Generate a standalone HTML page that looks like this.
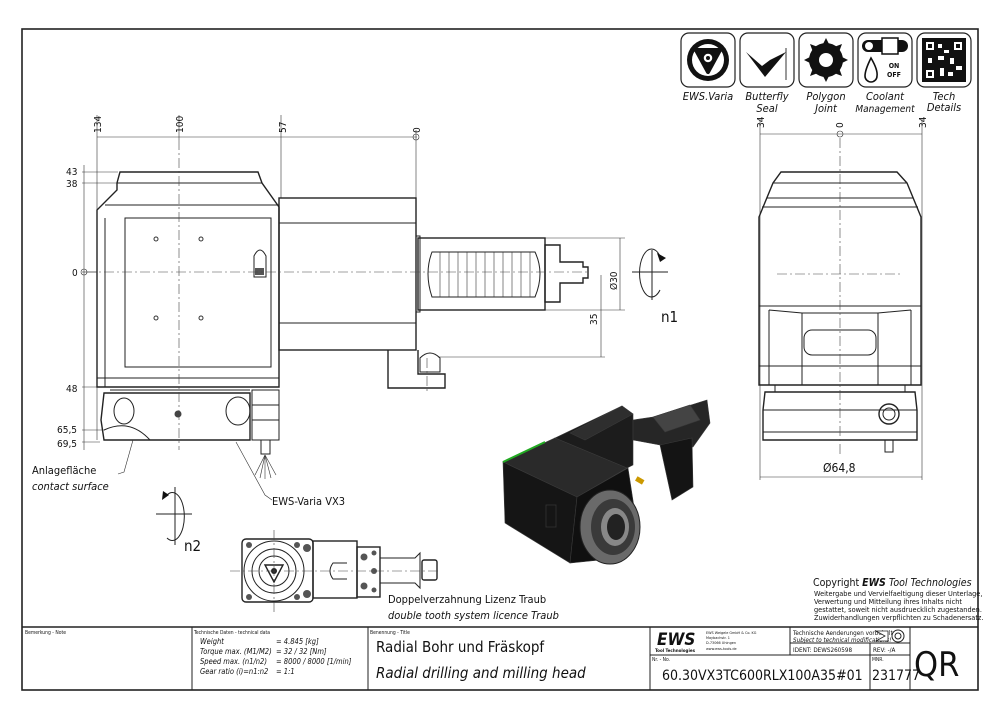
<!DOCTYPE html>
<html><head><meta charset="utf-8"><style>
body{margin:0;background:#fff}
svg{display:block}
text{font-family:"DejaVu Sans Condensed","DejaVu Sans","Liberation Sans",sans-serif;fill:#111}
.l{stroke:#222;stroke-width:1;fill:none}
.t{stroke:#222;stroke-width:1.4;fill:none}
.w{stroke:#222;stroke-width:1.2;fill:#fff}
.c{stroke:#444;stroke-width:0.6;stroke-dasharray:10 3 2 3;fill:none}
.d{stroke:#333;stroke-width:0.6;fill:none}
</style></head><body>
<svg width="1000" height="715" viewBox="0 0 1000 715" xmlns="http://www.w3.org/2000/svg">
<rect x="0" y="0" width="1000" height="715" fill="#fff"/>
<rect x="22" y="29" width="956" height="661" fill="none" stroke="#222" stroke-width="1.6"/>

<!-- icons -->
<g>
<rect x="681" y="33" width="54" height="54" rx="8" class="w"/>
<circle cx="708" cy="60" r="21" fill="#111"/><circle cx="708" cy="60" r="16" fill="#fff"/>
<path d="M696 50 L720 50 L708 72 Z" fill="#111" stroke="#111" stroke-width="4" stroke-linejoin="round"/>
<circle cx="708" cy="58" r="5" fill="#fff" stroke="#111" stroke-width="1.5"/><circle cx="708" cy="58" r="2" fill="#111"/>
<rect x="740" y="33" width="54" height="54" rx="8" class="w"/>
<path d="M746 52 L765 77 L786 52 L770 60 L762 66 Z" fill="#111"/><line x1="786" y1="48" x2="786" y2="80" stroke="#333"/>
<rect x="799" y="33" width="54" height="54" rx="8" class="w"/>
<circle cx="826" cy="60" r="17" fill="#111"/>
<g fill="#111"><polygon points="826,38 830,46 822,46"/><polygon points="826,82 830,74 822,74"/><polygon points="804,60 812,56 812,64"/><polygon points="848,60 840,56 840,64"/><polygon points="810,44 818,47 813,52"/><polygon points="842,44 834,47 839,52"/><polygon points="810,76 818,73 813,68"/><polygon points="842,76 834,73 839,68"/></g>
<circle cx="826" cy="60" r="7" fill="#fff"/>
<rect x="858" y="33" width="54" height="54" rx="8" class="w"/>
<rect x="862" y="40" width="46" height="12" rx="6" fill="#111"/><circle cx="869" cy="46" r="4" fill="#fff"/>
<rect x="882" y="38" width="16" height="16" fill="#fff" stroke="#111" stroke-width="1.5"/>
<path d="M871 58 Q878 70 877 76 A6 6 0 0 1 865 76 Q865 70 871 58Z" fill="#fff" stroke="#111" stroke-width="1.6"/>
<text x="894" y="68" font-size="7" font-weight="bold" text-anchor="middle">ON</text><text x="894" y="77" font-size="7" font-weight="bold" text-anchor="middle">OFF</text>
<rect x="917" y="33" width="54" height="54" rx="8" class="w"/>
<rect x="922" y="38" width="44" height="44" fill="#111"/>
<g fill="#fff"><rect x="926" y="42" width="8" height="8"/><rect x="954" y="42" width="8" height="8"/><rect x="926" y="70" width="8" height="8"/><rect x="938" y="44" width="4" height="4"/><rect x="944" y="50" width="5" height="3"/><rect x="938" y="56" width="6" height="4"/><rect x="950" y="58" width="4" height="6"/><rect x="956" y="66" width="6" height="4"/><rect x="940" y="68" width="4" height="8"/><rect x="948" y="72" width="5" height="4"/><rect x="928" y="58" width="4" height="5"/></g>
<g fill="#111"><rect x="928" y="44" width="4" height="4"/><rect x="956" y="44" width="4" height="4"/><rect x="928" y="72" width="4" height="4"/></g>
<g font-size="11" font-style="italic" text-anchor="middle">
<text x="708" y="100">EWS.Varia</text><text x="767" y="100">Butterfly</text><text x="767" y="112">Seal</text>
<text x="826" y="100">Polygon</text><text x="826" y="112">Joint</text><text x="885" y="100">Coolant</text><text x="885" y="112" font-size="10">Management</text>
<text x="944" y="100">Tech</text><text x="944" y="111">Details</text></g>
</g>

<!-- FRONT VIEW dims -->
<g class="d">
<line x1="97" y1="137" x2="417" y2="137"/>
<line x1="97" y1="115" x2="97" y2="440"/><line x1="179" y1="115" x2="179" y2="140"/><line x1="281" y1="115" x2="281" y2="198"/><line x1="416" y1="130" x2="416" y2="198"/>
<circle cx="416" cy="137" r="3"/>
<line x1="82" y1="172" x2="118" y2="172"/><line x1="82" y1="183" x2="118" y2="183"/><line x1="82" y1="272" x2="97" y2="272"/>
<line x1="82" y1="387" x2="100" y2="387"/><line x1="82" y1="430" x2="105" y2="430"/><line x1="82" y1="442" x2="100" y2="442"/>
<line x1="84" y1="165" x2="84" y2="450"/><circle cx="84" cy="272" r="3"/>
<line x1="545" y1="238" x2="625" y2="238"/><line x1="545" y1="310" x2="625" y2="310"/><line x1="620" y1="238" x2="620" y2="310"/>
<line x1="438" y1="357" x2="605" y2="357"/><line x1="601" y1="275" x2="601" y2="357"/>
</g>
<g font-size="10"><text transform="translate(101,133) rotate(-90)">134</text><text transform="translate(183,133) rotate(-90)">100</text>
<text transform="translate(286,133) rotate(-90)">57</text><text transform="translate(420,133) rotate(-90)">0</text>
<text x="66" y="175">43</text><text x="66" y="187">38</text><text x="72" y="276">0</text><text x="66" y="392">48</text>
<text x="57" y="433">65,5</text><text x="57" y="447">69,5</text>
<text transform="translate(617,290) rotate(-90)">Ø30</text><text transform="translate(597,325) rotate(-90)">35</text></g>

<!-- FRONT body -->
<path class="t" d="M120 172 L258 172 L262 183 L279 207 L279 387 L97 387 L97 210 L117 190 L117 183 Z"/>
<line class="l" x1="117" y1="183" x2="262" y2="183"/>
<line class="l" x1="105" y1="205" x2="279" y2="205"/>
<rect class="l" x="125" y="218" width="146" height="149"/>
<line class="l" x1="97" y1="378" x2="279" y2="378"/>
<line class="l" x1="105" y1="218" x2="105" y2="387"/>
<g fill="none" stroke="#333"><circle cx="156" cy="239" r="2"/><circle cx="201" cy="239" r="2"/><circle cx="156" cy="318" r="2"/><circle cx="201" cy="318" r="2"/></g>
<path class="l" d="M254 277 L254 256 Q260 244 266 256 L266 277 Z"/><rect x="255" y="268" width="9" height="7" fill="#555"/>
<rect class="t" x="279" y="198" width="137" height="152"/>
<line class="l" x1="279" y1="223" x2="416" y2="223"/><line class="l" x1="279" y1="323" x2="416" y2="323"/>
<rect class="t" x="418" y="238" width="127" height="72"/>
<rect class="l" x="416" y="236" width="4" height="76"/>
<path class="l" d="M432 252 L535 252 Q545 273 535 297 L432 297 Q424 273 432 252Z"/>
<g class="d" stroke-width="0.8"><line x1="440" y1="252" x2="440" y2="297"/><line x1="449" y1="252" x2="449" y2="297"/><line x1="458" y1="252" x2="458" y2="297"/><line x1="467" y1="252" x2="467" y2="297"/><line x1="476" y1="252" x2="476" y2="297"/><line x1="485" y1="252" x2="485" y2="297"/><line x1="494" y1="252" x2="494" y2="297"/><line x1="503" y1="252" x2="503" y2="297"/><line x1="512" y1="252" x2="512" y2="297"/><line x1="521" y1="252" x2="521" y2="297"/><line x1="530" y1="252" x2="530" y2="297"/></g>
<path class="t" d="M545 245 L560 245 L560 262 L583 262 L583 267 L588 267 L588 278 L583 278 L583 283 L560 283 L560 302 L545 302Z"/>
<path class="t" d="M388 350 L388 388 L445 388 L445 374 L418 374 L418 350"/>
<path class="l" d="M420 372 L420 358 Q430 348 440 358 L440 372Z"/>
<!-- flange -->
<path class="t" d="M104 393 L250 393 L250 440 L150 440 L104 440 L101 420 Z"/>
<line class="l" x1="110" y1="390" x2="250" y2="390"/>
<ellipse class="l" cx="124" cy="411" rx="10" ry="13"/><ellipse class="l" cx="238" cy="411" rx="12" ry="14"/>
<circle cx="178" cy="414" r="3.5" fill="#444"/>
<path class="l" d="M104 430 Q130 418 150 440"/>
<rect class="l" x="252" y="390" width="27" height="50"/><line class="l" x1="252" y1="405" x2="279" y2="405"/><line class="l" x1="252" y1="420" x2="279" y2="420"/>
<rect class="l" x="261" y="440" width="9" height="14"/>
<g class="d"><line x1="265" y1="455" x2="255" y2="475"/><line x1="265" y1="455" x2="260" y2="478"/><line x1="265" y1="455" x2="265" y2="479"/><line x1="265" y1="455" x2="271" y2="478"/><line x1="265" y1="455" x2="276" y2="475"/></g>
<!-- centerlines -->
<line class="c" x1="86" y1="272" x2="590" y2="272"/>
<line class="c" x1="179" y1="140" x2="179" y2="450"/>
<line class="c" x1="427" y1="358" x2="427" y2="392"/>
<!-- leaders -->
<path class="d" d="M236 442 L265 495 L272 500"/>
<text x="272" y="505" font-size="11">EWS-Varia VX3</text>
<path class="d" d="M133 440 L124 472 L118 474"/>
<text x="32" y="474" font-size="11">Anlagefläche</text><text x="32" y="490" font-size="11" font-style="italic">contact surface</text>
<!-- rotation symbols -->
<g class="l"><line x1="632" y1="272" x2="668" y2="272"/><line x1="652" y1="250" x2="652" y2="300"/><path d="M660 256 A12 24 0 1 0 660 290"/></g>
<path d="M657 253 L666 258 L660 262Z" fill="#111"/>
<text x="661" y="322" font-size="15" font-family="Liberation Sans">n1</text>
<g class="l"><line x1="156" y1="514" x2="192" y2="514"/><line x1="175" y1="487" x2="175" y2="545"/><path d="M167 495 A12 24 0 1 1 167 538"/></g>
<path d="M163 491 L169 495 L162 500Z" fill="#111"/>
<text x="184" y="551" font-size="15" font-family="Liberation Sans">n2</text>

<!-- SIDE VIEW -->
<g class="d"><line x1="760" y1="134" x2="922" y2="134"/><line x1="760" y1="118" x2="760" y2="480"/><line x1="922" y1="118" x2="922" y2="480"/><circle cx="840" cy="134" r="3"/></g>
<g font-size="10"><text transform="translate(764,128) rotate(-90)">34</text><text transform="translate(843,128) rotate(-90)">0</text><text transform="translate(926,128) rotate(-90)">34</text></g>
<path class="t" d="M781 172 L897 172 L907 183 L921 217 L921 385 L759 385 L759 217 L773 183 Z"/>
<line class="l" x1="773" y1="183" x2="907" y2="183"/><line class="l" x1="767" y1="198" x2="913" y2="198"/><line class="l" x1="762" y1="207" x2="918" y2="207"/>
<path class="l" d="M759 306 L921 306 M769 310 L802 313 L878 313 L911 310 M769 310 L769 385 M802 313 L802 385 M878 313 L878 385 M911 310 L911 385"/>
<line class="l" x1="759" y1="366" x2="921" y2="366"/>
<rect class="l" x="804" y="330" width="72" height="25" rx="8"/>
<rect class="l" x="775" y="385" width="130" height="7"/>
<path class="t" d="M765 392 L915 392 L917 410 L917 440 L763 440 L763 410 Z"/>
<line class="l" x1="763" y1="410" x2="917" y2="410"/><line class="l" x1="763" y1="432" x2="917" y2="432"/>
<circle class="t" cx="889" cy="414" r="10"/><circle class="l" cx="889" cy="414" r="6"/>
<rect class="l" x="885" y="440" width="8" height="12"/>
<line class="c" x1="840" y1="138" x2="840" y2="455"/><line class="c" x1="777" y1="274" x2="903" y2="274"/>
<g class="d"><line x1="760" y1="477" x2="922" y2="477"/></g>
<text x="823" y="472" font-size="12">Ø64,8</text>

<!-- BOTTOM VIEW -->
<rect class="t" x="242" y="539" width="71" height="63" rx="4"/>
<circle class="l" cx="274" cy="571" r="30"/><circle class="l" cx="274" cy="571" r="22"/><circle class="l" cx="274" cy="571" r="15"/>
<path class="t" d="M265 565 L283 565 L274 582Z"/><circle cx="274" cy="571" r="3" fill="#222"/>
<g fill="#555"><circle cx="249" cy="545" r="3"/><circle cx="297" cy="545" r="3"/><circle cx="249" cy="597" r="3"/><circle cx="297" cy="597" r="3"/><circle cx="307" cy="548" r="4"/><circle cx="307" cy="594" r="4"/></g>
<rect class="t" x="313" y="541" width="44" height="57"/>
<path class="l" d="M347 563 L333 563 Q327 571 333 579 L347 579"/>
<rect class="t" x="357" y="547" width="23" height="50"/>
<g fill="#555"><circle cx="364" cy="557" r="3.5"/><circle cx="364" cy="586" r="3.5"/><circle cx="374" cy="571" r="3"/><circle cx="374" cy="553" r="2.5"/><circle cx="374" cy="590" r="2.5"/></g>
<path class="l" d="M380 558 L415 558 L420 553 L420 588 L415 583 L380 583"/>
<rect class="t" x="422" y="560" width="15" height="20" rx="2"/>
<line class="c" x1="230" y1="571" x2="440" y2="571"/><line class="c" x1="274" y1="530" x2="274" y2="612"/>
<text x="388" y="603" font-size="11">Doppelverzahnung Lizenz Traub</text>
<text x="388" y="619" font-size="11" font-style="italic">double tooth system licence Traub</text>

<!-- ISO render -->
<g stroke="#3a3a3a" stroke-width="0.6">
<polygon points="555,438 622,406 633,414 633,465 627,468" fill="#1c1c1c"/>
<polygon points="570,433 622,406 633,414 585,440" fill="#2e2e2e"/>
<polygon points="633,420 653,417 707,400 710,423 693,447 660,445 633,440" fill="#262626"/>
<polygon points="653,417 690,405 700,420 665,432" fill="#444"/>
<polygon points="503,462 555,438 627,468 577,497" fill="#2a2a2a"/>
<polygon points="503,462 577,497 570,563 505,523" fill="#151515"/>
<polygon points="577,497 628,468 636,520 600,560 570,563" fill="#101010"/>
<polygon points="660,445 692,438 693,487 672,500" fill="#141414"/>
</g>
<line x1="503" y1="462" x2="545" y2="442" stroke="#2a2" stroke-width="2"/>
<rect x="546" y="505" width="10" height="22" fill="none" stroke="#333" stroke-width="0.8"/>
<ellipse cx="610" cy="527" rx="30" ry="37" fill="#6a6a6a" stroke="#222"/>
<ellipse cx="613" cy="527" rx="22" ry="28" fill="#3a3a3a"/>
<ellipse cx="615" cy="527" rx="14" ry="19" fill="#888"/>
<ellipse cx="616" cy="527" rx="9" ry="13" fill="#222"/>
<rect x="636" y="478" width="8" height="5" fill="#c90" transform="rotate(30 640 480)"/>

<!-- copyright -->
<text x="813" y="586" font-size="10.5" font-family="Liberation Sans">Copyright <tspan font-weight="bold" font-style="italic">EWS</tspan> <tspan font-style="italic">Tool Technologies</tspan></text>
<g font-size="7.3" font-family="Liberation Sans"><text x="814" y="596">Weitergabe und Vervielfaeltigung dieser Unterlage,</text><text x="814" y="604">Verwertung und Mitteilung ihres Inhalts nicht</text><text x="814" y="612">gestattet, soweit nicht ausdruecklich zugestanden.</text><text x="814" y="620">Zuwiderhandlungen verpflichten zu Schadenersatz.</text></g>

<!-- title block -->
<g stroke="#222" fill="none">
<line x1="22" y1="627" x2="978" y2="627" stroke-width="1.4"/>
<line x1="192" y1="627" x2="192" y2="690"/><line x1="368" y1="627" x2="368" y2="690"/><line x1="650" y1="627" x2="650" y2="690"/>
<line x1="790" y1="627" x2="790" y2="655"/><line x1="910" y1="627" x2="910" y2="690"/>
<line x1="650" y1="655" x2="910" y2="655"/><line x1="790" y1="643" x2="910" y2="643"/><line x1="870" y1="643" x2="870" y2="690"/>
</g>
<g font-size="5"><text x="25" y="634">Bemerkung - Note</text><text x="194" y="634">Technische Daten - technical data</text><text x="370" y="634">Benennung - Title</text><text x="652" y="661">Nr. - No.</text><text x="872" y="661">MNR.</text></g>
<g font-size="7.5" font-style="italic"><text x="200" y="644">Weight</text><text x="200" y="654">Torque max. (M1/M2)</text><text x="200" y="664">Speed max. (n1/n2)</text><text x="200" y="674">Gear ratio  (i)=n1:n2</text>
<text x="276" y="644">=  4.845 [kg]</text><text x="276" y="654">=  32 / 32 [Nm]</text><text x="276" y="664">=  8000 / 8000 [1/min]</text><text x="276" y="674">=  1:1</text></g>
<text x="376" y="652" font-size="15">Radial Bohr und Fräskopf</text>
<text x="376" y="678" font-size="15" font-style="italic">Radial drilling and milling head</text>
<text x="657" y="645" font-size="17" font-weight="bold" font-style="italic" font-family="Liberation Sans">EWS</text>
<text x="655" y="652" font-size="4.5" font-weight="bold">Tool Technologies</text>
<g font-size="3.8"><text x="706" y="634">EWS Weigele GmbH &amp; Co. KG</text><text x="706" y="639">Maybachstr. 1</text><text x="706" y="644">D-73066 Uhingen</text><text x="706" y="650">www.ews-tools.de</text></g>
<g font-size="6.3"><text x="793" y="635">Technische Aenderungen vorbehalten!</text><text x="793" y="642" font-style="italic">Subject to technical modifications!</text><text x="793" y="652">IDENT:  DEWS260598</text><text x="873" y="652">REV:  -/A</text></g>
<path d="M876 631 L888 631 L888 641 L876 641 L885 636Z" fill="#fff" stroke="#222" stroke-width="0.8"/>
<circle cx="898" cy="636" r="6" fill="#fff" stroke="#222"/><circle cx="898" cy="636" r="3" fill="none" stroke="#222"/>
<text x="662" y="680" font-size="14">60.30VX3TC600RLX100A35#01</text>
<text x="872" y="680" font-size="14">231777</text>
<text x="914" y="676" font-size="34" font-family="Liberation Sans">QR</text>
</svg>
</body></html>
